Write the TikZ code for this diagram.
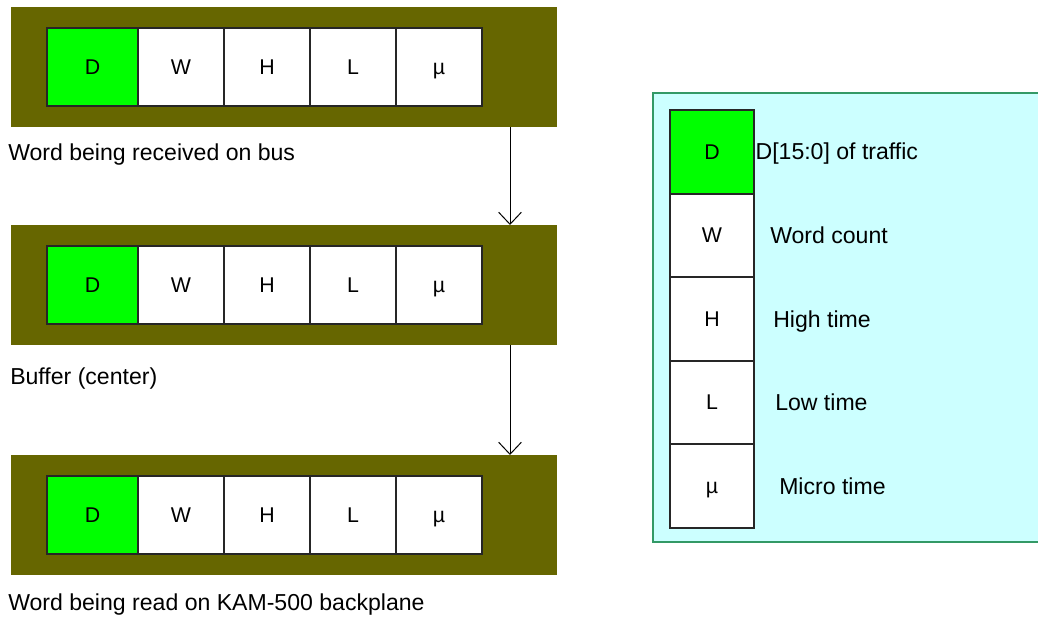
\documentclass[tikz,border=0pt]{standalone}
\usepackage{fontspec}
\setmainfont{Liberation Sans}
\usetikzlibrary{positioning, arrows.meta}
\definecolor{framebg}{HTML}{666600}
\definecolor{datagreen}{HTML}{00FF00}
\definecolor{legendbg}{HTML}{CCFFFF}
\definecolor{legendrule}{HTML}{339966}

\begin{document}
\begin{tikzpicture}[x=0.75pt, y=-0.75pt,
  frame/.style={rectangle, fill=framebg, minimum width=409.5pt, minimum height=90pt, inner sep=0pt, outer sep=0pt},
  cell/.style={rectangle, draw=black!85, line width=1.5pt, fill=white, minimum width=64.5pt, minimum height=58.5pt, inner sep=0pt, outer sep=0pt, text height=11pt, text depth=0pt, font=\fontsize{16}{19}\selectfont},
  dcell/.style={cell, fill=datagreen, minimum width=68.25pt},
  keycell/.style={cell, minimum width=63pt, minimum height=62.7pt},
  caption/.style={anchor=west, inner sep=0pt, text height=12pt, text depth=0pt, font=\fontsize{17.3}{20}\selectfont},
  key/.style={inner sep=0pt, text height=12pt, text depth=0pt, font=\fontsize{17.3}{20}\selectfont},
  arrow/.style={-{Straight Barb[length=9pt, width=17pt]}, line width=0.75pt}
]
\clip (0,0) rectangle (1038,617);

% Words
\foreach \row/\fy in {top/67, mid/285, bot/515} {
  \node[frame] (\row) at (284,\fy) {};
  \node[dcell] (\row-d) at (92.5,\fy) {D};
  \node[cell, right=0pt of \row-d] (\row-w) {W};
  \node[cell, right=0pt of \row-w] (\row-h) {H};
  \node[cell, right=0pt of \row-h] (\row-l) {L};
  \node[cell, right=0pt of \row-l] (\row-u) {µ};
}
\node[caption] (cap-top) at (8,152) {Word being received on bus};
\node[caption] (cap-mid) at (10,376) {Buffer (center)};
\node[caption] (cap-bot) at (8,602) {Word being read on KAM-500 backplane};

% Transfers
\coordinate (arrx) at (510,0);
\draw[arrow] (top.south -| arrx) -- (mid.north -| arrx);
\draw[arrow] (mid.south -| arrx) -- (bot.north -| arrx);

% Legend
\draw[fill=legendbg, draw=legendrule, line width=1.5pt] (653,93) rectangle (1050,542);
\node[keycell, fill=datagreen] (key-d) at (712,151.8) {D};
\node[keycell, below=0pt of key-d] (key-w) {W};
\node[keycell, below=0pt of key-w] (key-h) {H};
\node[keycell, below=0pt of key-h] (key-l) {L};
\node[keycell, below=0pt of key-l] (key-u) {µ};
\node[key, right=1pt of key-d] (txt-d) {D[15:0] of traffic};
\node[key, right=12pt of key-w] (txt-w) {Word count};
\node[key, right=14.25pt of key-h] (txt-h) {High time};
\node[key, right=15.75pt of key-l] (txt-l) {Low time};
\node[key, right=18.75pt of key-u] (txt-u) {Micro time};
\end{tikzpicture}
\end{document}
